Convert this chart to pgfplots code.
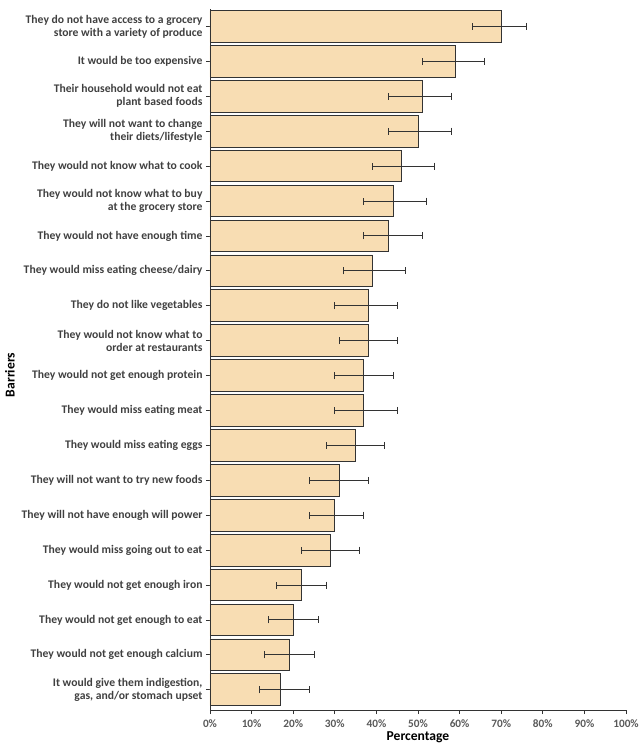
\documentclass[border=0pt]{standalone}
\usepackage{fontspec}
\setmainfont{Carlito}
\usepackage{pgfplots}
\pgfplotsset{compat=1.18}
\usepackage{pgfplotstable}
\definecolor{barfill}{HTML}{F8DDB3}
\definecolor{edge}{HTML}{333333}
\definecolor{labtxt}{HTML}{404040}
\definecolor{ticktxt}{HTML}{595959}
\pgfplotstableread{
y v ep em
19 70 6 7
18 59 7 8
17 51 7 8
16 50 8 7
15 46 8 7
14 44 8 7
13 43 8 6
12 39 8 7
11 38 7 8
10 38 7 7
9 37 7 7
8 37 8 7
7 35 7 7
6 31 7 7
5 30 7 6
4 29 7 7
3 22 6 6
2 20 6 6
1 19 6 6
0 17 7 5
}\data
\begin{document}
\begin{tikzpicture}
\begin{axis}[name=ax, scale only axis, width=416pt, height=701pt,
  xmin=0, xmax=100, ymin=-0.58, ymax=19.5,
  axis x line=bottom, axis y line=left, axis line style={-, edge, line width=0.8pt},
  xtick={0,10,...,100},
  xticklabels={0\%,10\%,20\%,30\%,40\%,50\%,60\%,70\%,80\%,90\%,100\%},
  ytick={0,...,19},
  yticklabels={{It would give them indigestion,\\ gas, and/or stomach upset},
    {They would not get enough calcium},
    {They would not get enough to eat},
    {They would not get enough iron},
    {They would miss going out to eat},
    {They will not have enough will power},
    {They will not want to try new foods},
    {They would miss eating eggs},
    {They would miss eating meat},
    {They would not get enough protein},
    {They would not know what to\\ order at restaurants},
    {They do not like vegetables},
    {They would miss eating cheese/dairy},
    {They would not have enough time},
    {They would not know what to buy\\ at the grocery store},
    {They would not know what to cook},
    {They will not want to change\\ their diets/lifestyle},
    {Their household would not eat\\ plant based foods},
    {It would be too expensive},
    {They do not have access to a grocery\\ store with a variety of produce}},
  tick align=outside, major tick length=4pt,
  tick style={edge, line width=0.7pt},
  yticklabel style={align=right, font=\fontsize{11.65}{13}\selectfont\bfseries, text=labtxt},
  xticklabel style={font=\fontsize{11.3}{13}\selectfont\bfseries, text=ticktxt, yshift=-2pt},
  xlabel={Percentage}, ylabel={Barriers},
  every axis x label/.style={at={(axis description cs:0.5,-0.0385)}, anchor=center, font=\fontsize{13.6}{15}\selectfont\bfseries, text=black},
  every axis y label/.style={at={(axis description cs:-0.4808,0.478)}, anchor=center, rotate=90, font=\fontsize{13.6}{15}\selectfont\bfseries, text=black},
]
\addplot[xbar, bar width=31.7pt, fill=barfill, draw=edge, line width=0.9pt,
  error bars/.cd, x dir=both, x explicit,
  error bar style={line width=0.9pt, edge},
  error mark=-,
  error mark options={rotate=90, edge, line width=0.9pt, mark size=3.5pt}]
  table[x=v, y=y, x error plus=ep, x error minus=em] {\data};
\end{axis}
\pgfresetboundingbox
\path ([shift={(-210pt,-39pt)}]ax.south west) rectangle ([shift={(16pt,9pt)}]ax.north east);
\end{tikzpicture}
\end{document}
